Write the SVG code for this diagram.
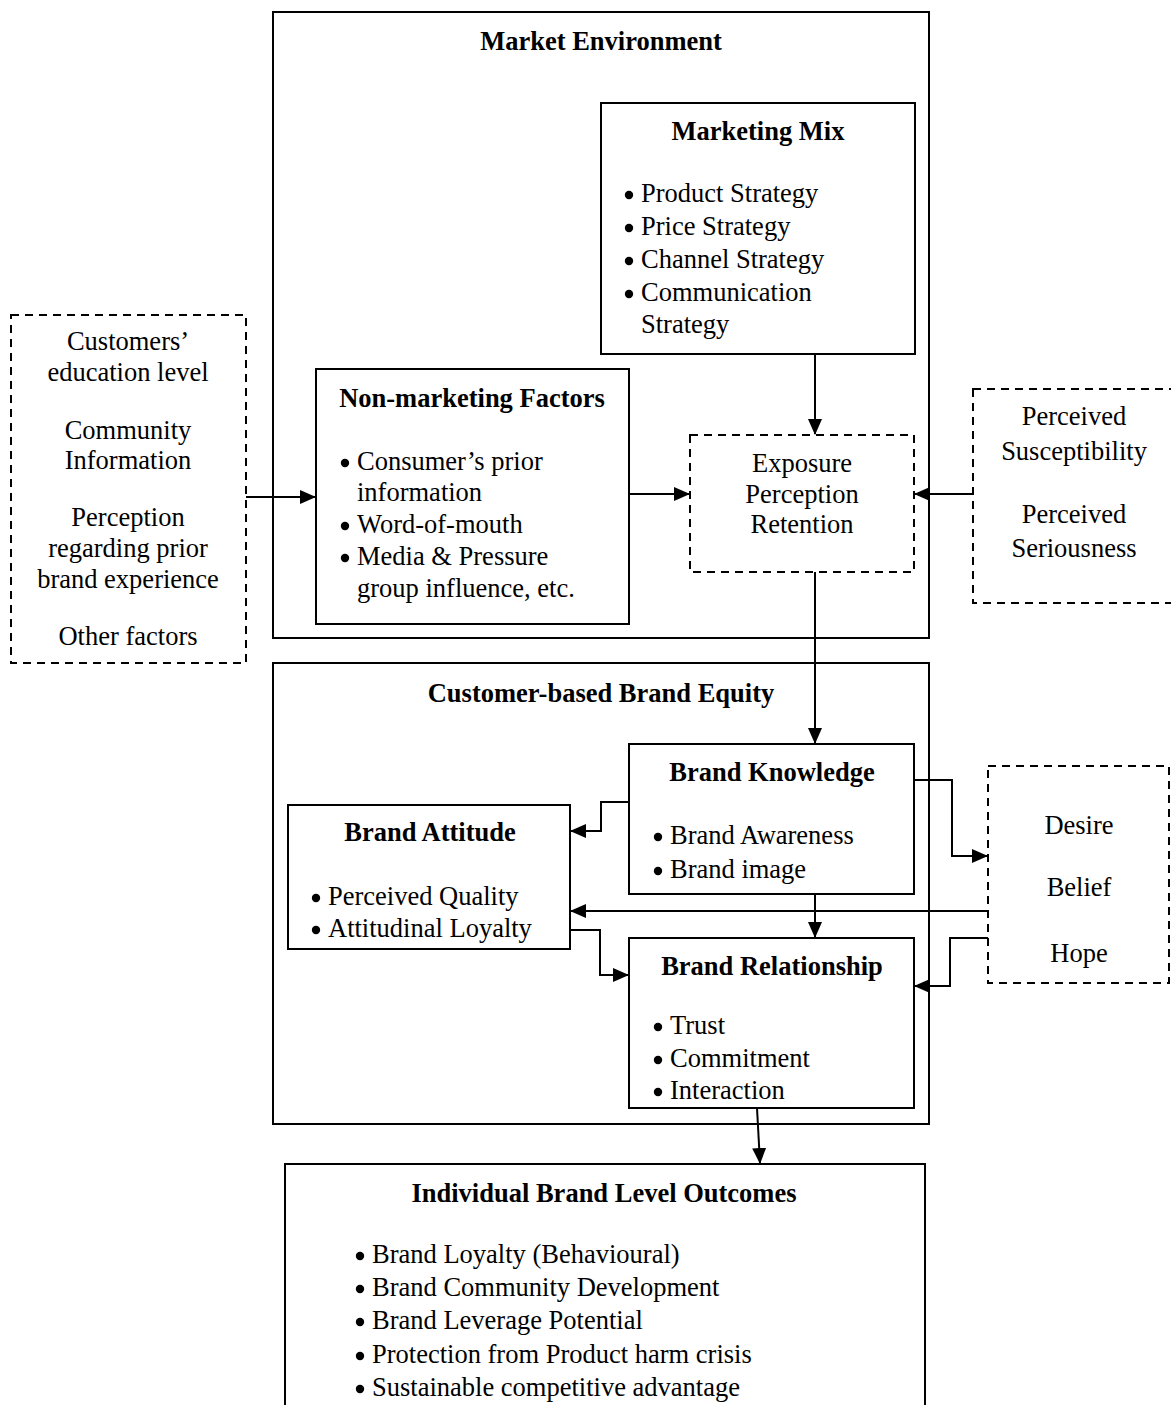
<svg xmlns="http://www.w3.org/2000/svg" width="1171" height="1405" viewBox="0 0 1171 1405">
  <style>
    text { font-family: "Liberation Serif", "Times New Roman", serif; font-size: 26.5px; fill: #000; }
    .title { font-weight: bold; text-anchor: middle; }
    .c { text-anchor: middle; }
    .box { fill: #fff; stroke: #000; stroke-width: 2; }
    .frame { fill: none; stroke: #000; stroke-width: 2; }
    .dash { fill: #fff; stroke: #000; stroke-width: 2; stroke-dasharray: 8 6; }
    .link { fill: none; stroke: #000; stroke-width: 2; marker-end: url(#arrow); }
    .dot { fill: #000; }
  </style>
  <defs>
    <marker id="arrow" markerUnits="userSpaceOnUse" markerWidth="16" markerHeight="14" refX="15" refY="7" orient="auto">
      <path d="M0,0 L16,7 L0,14 Z" fill="#000"/>
    </marker>
    <circle id="bullet" r="4.2"/>
  </defs>
  <rect width="1171" height="1405" fill="#fff"/>

  <!-- Market environment frame -->
  <g id="market-environment">
    <rect class="frame" x="273" y="12" width="656" height="626"/>
    <text class="title" x="601" y="50">Market Environment</text>
  </g>

  <!-- Customer-based brand equity frame -->
  <g id="cbbe">
    <rect class="frame" x="273" y="663" width="656" height="461"/>
    <text class="title" x="601" y="702">Customer-based Brand Equity</text>
  </g>

  <g id="marketing-mix">
    <rect class="box" x="601" y="103" width="314" height="251"/>
    <text class="title" x="758" y="140">Marketing Mix</text>
    <use href="#bullet" class="dot" x="629" y="195"/><text x="641" y="202">Product Strategy</text>
    <use href="#bullet" class="dot" x="629" y="228"/><text x="641" y="235">Price Strategy</text>
    <use href="#bullet" class="dot" x="629" y="261"/><text x="641" y="268">Channel Strategy</text>
    <use href="#bullet" class="dot" x="629" y="294"/><text x="641" y="301">Communication</text>
    <text x="641" y="333">Strategy</text>
  </g>

  <g id="non-marketing">
    <rect class="box" x="316" y="369" width="313" height="255"/>
    <text class="title" x="472" y="407">Non-marketing Factors</text>
    <use href="#bullet" class="dot" x="345" y="463"/><text x="357" y="470">Consumer’s prior</text>
    <text x="357" y="501">information</text>
    <use href="#bullet" class="dot" x="345" y="526"/><text x="357" y="533">Word-of-mouth</text>
    <use href="#bullet" class="dot" x="345" y="558"/><text x="357" y="565">Media &amp; Pressure</text>
    <text x="357" y="597">group influence, etc.</text>
  </g>

  <g id="exposure">
    <rect class="dash" x="690" y="435" width="224" height="137"/>
    <text class="c" x="802" y="472">Exposure</text>
    <text class="c" x="802" y="503">Perception</text>
    <text class="c" x="802" y="533">Retention</text>
  </g>

  <g id="customer-factors">
    <rect class="dash" x="11" y="315" width="235" height="348"/>
    <text class="c" x="128" y="350">Customers’</text>
    <text class="c" x="128" y="381">education level</text>
    <text class="c" x="128" y="439">Community</text>
    <text class="c" x="128" y="469">Information</text>
    <text class="c" x="128" y="526">Perception</text>
    <text class="c" x="128" y="557">regarding prior</text>
    <text class="c" x="128" y="588">brand experience</text>
    <text class="c" x="128" y="645">Other factors</text>
  </g>

  <g id="perceived-threat">
    <rect class="dash" x="973" y="389" width="210" height="214"/>
    <text class="c" x="1074" y="425">Perceived</text>
    <text class="c" x="1074" y="460">Susceptibility</text>
    <text class="c" x="1074" y="523">Perceived</text>
    <text class="c" x="1074" y="557">Seriousness</text>
  </g>

  <g id="brand-knowledge">
    <rect class="box" x="629" y="744" width="285" height="150"/>
    <text class="title" x="772" y="781">Brand Knowledge</text>
    <use href="#bullet" class="dot" x="658" y="837"/><text x="670" y="844">Brand Awareness</text>
    <use href="#bullet" class="dot" x="658" y="871"/><text x="670" y="878">Brand image</text>
  </g>

  <g id="brand-attitude">
    <rect class="box" x="288" y="805" width="282" height="144"/>
    <text class="title" x="430" y="841">Brand Attitude</text>
    <use href="#bullet" class="dot" x="316" y="898"/><text x="328" y="905">Perceived Quality</text>
    <use href="#bullet" class="dot" x="316" y="930"/><text x="328" y="937">Attitudinal Loyalty</text>
  </g>

  <g id="brand-relationship">
    <rect class="box" x="629" y="938" width="285" height="170"/>
    <text class="title" x="772" y="975">Brand Relationship</text>
    <use href="#bullet" class="dot" x="658" y="1027"/><text x="670" y="1034">Trust</text>
    <use href="#bullet" class="dot" x="658" y="1060"/><text x="670" y="1067">Commitment</text>
    <use href="#bullet" class="dot" x="658" y="1092"/><text x="670" y="1099">Interaction</text>
  </g>

  <g id="desire-belief-hope">
    <rect class="dash" x="988" y="766" width="181" height="217"/>
    <text class="c" x="1079" y="834">Desire</text>
    <text class="c" x="1079" y="896">Belief</text>
    <text class="c" x="1079" y="962">Hope</text>
  </g>

  <g id="outcomes">
    <rect class="box" x="285" y="1164" width="640" height="260"/>
    <text class="title" x="604" y="1202">Individual Brand Level Outcomes</text>
    <use href="#bullet" class="dot" x="360" y="1256"/><text x="372" y="1263">Brand Loyalty (Behavioural)</text>
    <use href="#bullet" class="dot" x="360" y="1289"/><text x="372" y="1296">Brand Community Development</text>
    <use href="#bullet" class="dot" x="360" y="1322"/><text x="372" y="1329">Brand Leverage Potential</text>
    <use href="#bullet" class="dot" x="360" y="1356"/><text x="372" y="1363">Protection from Product harm crisis</text>
    <use href="#bullet" class="dot" x="360" y="1389"/><text x="372" y="1396">Sustainable competitive advantage</text>
  </g>

  <!-- Connectors -->
  <g id="connectors">
    <path class="link" d="M246,497 H315"/>
    <path class="link" d="M629,494 H689"/>
    <path class="link" d="M815,354 V434"/>
    <path class="link" d="M973,494 H915"/>
    <path class="link" d="M815,572 V743"/>
    <path class="link" d="M629,802 H601 V831 H571"/>
    <path class="link" d="M914,780 H952 V856 H987"/>
    <path class="link" d="M815,894 V937"/>
    <path class="link" d="M988,911 H571"/>
    <path class="link" d="M570,930 H600 V975 H628"/>
    <path class="link" d="M988,938 H950 V986 H915"/>
    <path class="link" d="M757,1108 L760,1163"/>
  </g>
</svg>
